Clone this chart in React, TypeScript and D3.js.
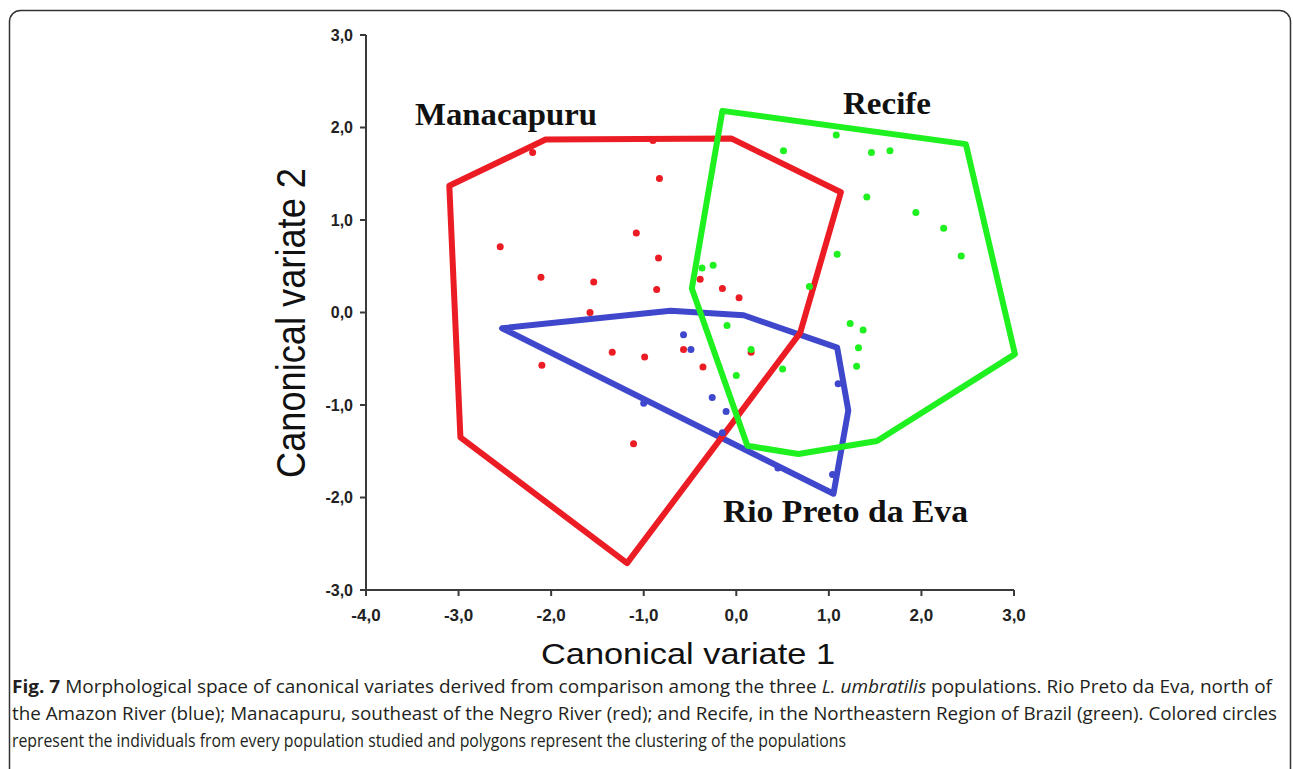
import * as d3 from 'd3';

// axis ticks
const xTicks = [-4, -3, -2, -1, 0, 1, 2, 3];
const yTicks = [-3, -2, -1, 0, 1, 2, 3];

// population hulls (canonical variate 1, canonical variate 2)
const manacapuruHull: [number, number][] = [
  [-3.1, 1.37], [-2.06, 1.87], [-0.05, 1.88], [1.13, 1.3],
  [0.69, -0.22], [-1.18, -2.71], [-2.98, -1.35],
];
const recifeHull: [number, number][] = [
  [-0.15, 2.18], [2.48, 1.82], [3.01, -0.45], [1.52, -1.39],
  [0.67, -1.53], [0.12, -1.44], [-0.48, 0.26],
];
const rioPretoHull: [number, number][] = [
  [-2.53, -0.17], [-0.71, 0.02], [0.08, -0.03], [1.09, -0.38],
  [1.21, -1.06], [1.05, -1.96],
];

// individuals
const manacapuruPts: [number, number][] = [
  [-0.83, 1.45], [-1.08, 0.86], [-2.55, 0.71], [-0.84, 0.59], [-2.11, 0.38],
  [-1.54, 0.33], [-0.86, 0.25], [-0.39, 0.36], [-0.15, 0.26], [0.03, 0.16],
  [-1.58, 0.0], [-1.34, -0.43], [-0.99, -0.48], [-0.57, -0.4], [-2.1, -0.57],
  [-0.36, -0.59], [0.16, -0.43], [-1.11, -1.42], [-2.2, 1.73], [-0.9, 1.86],
];
const recifePts: [number, number][] = [
  [1.08, 1.92], [0.51, 1.75], [1.46, 1.73], [1.66, 1.75], [1.41, 1.25],
  [1.94, 1.08], [2.24, 0.91], [2.43, 0.61], [1.09, 0.63], [-0.37, 0.48],
  [-0.25, 0.51], [0.79, 0.28], [-0.1, -0.14], [1.23, -0.12], [1.37, -0.19],
  [1.32, -0.38], [1.3, -0.58], [0.16, -0.4], [0.0, -0.68], [0.5, -0.61],
];
const rioPretoPts: [number, number][] = [
  [-0.57, -0.24], [-0.49, -0.4], [-0.26, -0.92], [-0.11, -1.07], [-0.15, -1.3],
  [1.1, -0.77], [1.04, -1.75], [0.45, -1.68], [-1.0, -0.98],
];

const RED = '#ec1c24';
const GREEN = '#1ff01f';
const BLUE = '#3f48cc';
const AXIS = '#3a3a3a';

const x = d3.scaleLinear().domain([-4, 3]).range([366, 1014]);
const y = d3.scaleLinear().domain([-3, 3]).range([590, 35]);
const fmt = (v: number) => v.toFixed(1).replace('.', ',');

const hullPath = d3
  .line<[number, number]>()
  .x((d) => x(d[0]))
  .y((d) => y(d[1]))
  .curve(d3.curveLinearClosed);

const groups = [
  { hull: rioPretoHull, color: BLUE },
  { hull: manacapuruHull, color: RED },
  { hull: recifeHull, color: GREEN },
];

const pointSets = [
  { pts: manacapuruPts, color: RED },
  { pts: recifePts, color: GREEN },
  { pts: rioPretoPts, color: BLUE },
];

const captionFont = '"Open Sans", "Noto Sans", sans-serif';

export default function App() {
  return (
    <svg
      width={1293}
      height={769}
      style={{ position: 'absolute', left: 0, top: 0, background: '#fff' }}
    >
      <rect x={9.5} y={10.5} width={1281} height={800} rx={11} fill="none" stroke="#333" strokeWidth={1.5} />

      {/* axes */}
      <g stroke={AXIS} strokeWidth={2} fill="none">
        <line x1={x(-4)} x2={x(-4)} y1={y(3)} y2={y(-3)} />
        <line x1={x(-4)} x2={x(3)} y1={y(-3)} y2={y(-3)} />
        {yTicks.map((t) => (
          <line key={'yt' + t} x1={x(-4) - 6} x2={x(-4)} y1={y(t)} y2={y(t)} />
        ))}
        {xTicks.map((t) => (
          <line key={'xt' + t} x1={x(t)} x2={x(t)} y1={y(-3)} y2={y(-3) + 6} />
        ))}
      </g>
      <g fontFamily="Arial, 'Liberation Sans', sans-serif" fontWeight="bold" fontSize={16} fill="#222">
        {yTicks.map((t) => (
          <text key={'yl' + t} x={x(-4) - 13} y={y(t)} dy="0.36em" textAnchor="end">
            {fmt(t)}
          </text>
        ))}
        {xTicks.map((t) => (
          <text key={'xl' + t} x={x(t)} y={y(-3) + 31} textAnchor="middle" fontSize={17}>
            {fmt(t)}
          </text>
        ))}
      </g>

      {/* axis titles */}
      <text
        x={688}
        y={664}
        textAnchor="middle"
        fontFamily="Arial, 'Liberation Sans', sans-serif"
        fontSize={29}
        fill="#111"
        textLength={294}
        lengthAdjust="spacingAndGlyphs"
      >
        Canonical variate 1
      </text>
      <text
        transform="translate(305,323) rotate(-90)"
        textAnchor="middle"
        fontFamily="Arial, 'Liberation Sans', sans-serif"
        fontSize={40}
        fill="#111"
        textLength={310}
        lengthAdjust="spacingAndGlyphs"
      >
        Canonical variate 2
      </text>

      {/* hulls */}
      {groups.map((g, i) => (
        <path
          key={'h' + i}
          d={hullPath(g.hull) ?? ''}
          fill="none"
          stroke={g.color}
          strokeWidth={6}
          strokeLinejoin="round"
        />
      ))}

      {/* individuals */}
      {pointSets.map((s, i) => (
        <g key={'p' + i} fill={s.color}>
          {s.pts.map((p, j) => (
            <circle key={j} cx={x(p[0])} cy={y(p[1])} r={3.5} />
          ))}
        </g>
      ))}

      {/* population labels */}
      <g fontFamily="'Times New Roman', 'Liberation Serif', serif" fontWeight="bold" fontSize={31} fill="#111">
        <text x={415} y={125} textLength={182} lengthAdjust="spacingAndGlyphs">Manacapuru</text>
        <text x={843} y={114} textLength={88} lengthAdjust="spacingAndGlyphs">Recife</text>
        <text x={723} y={522} textLength={245} lengthAdjust="spacingAndGlyphs">Rio Preto da Eva</text>
      </g>

      {/* caption */}
      <g fontFamily={captionFont} fontSize={18} fill="#231f20">
        <text x={12} y={693} textLength={1260} lengthAdjust="spacingAndGlyphs">
          <tspan fontWeight="bold">Fig. 7</tspan> Morphological space of canonical variates derived from comparison among the three{' '}
          <tspan fontStyle="italic">L. umbratilis</tspan> populations. Rio Preto da Eva, north of
        </text>
        <text x={12} y={720} textLength={1265} lengthAdjust="spacingAndGlyphs">
          the Amazon River (blue); Manacapuru, southeast of the Negro River (red); and Recife, in the Northeastern Region of Brazil (green). Colored circles
        </text>
        <text x={12} y={747} textLength={834} lengthAdjust="spacingAndGlyphs">
          represent the individuals from every population studied and polygons represent the clustering of the populations
        </text>
      </g>
    </svg>
  );
}
